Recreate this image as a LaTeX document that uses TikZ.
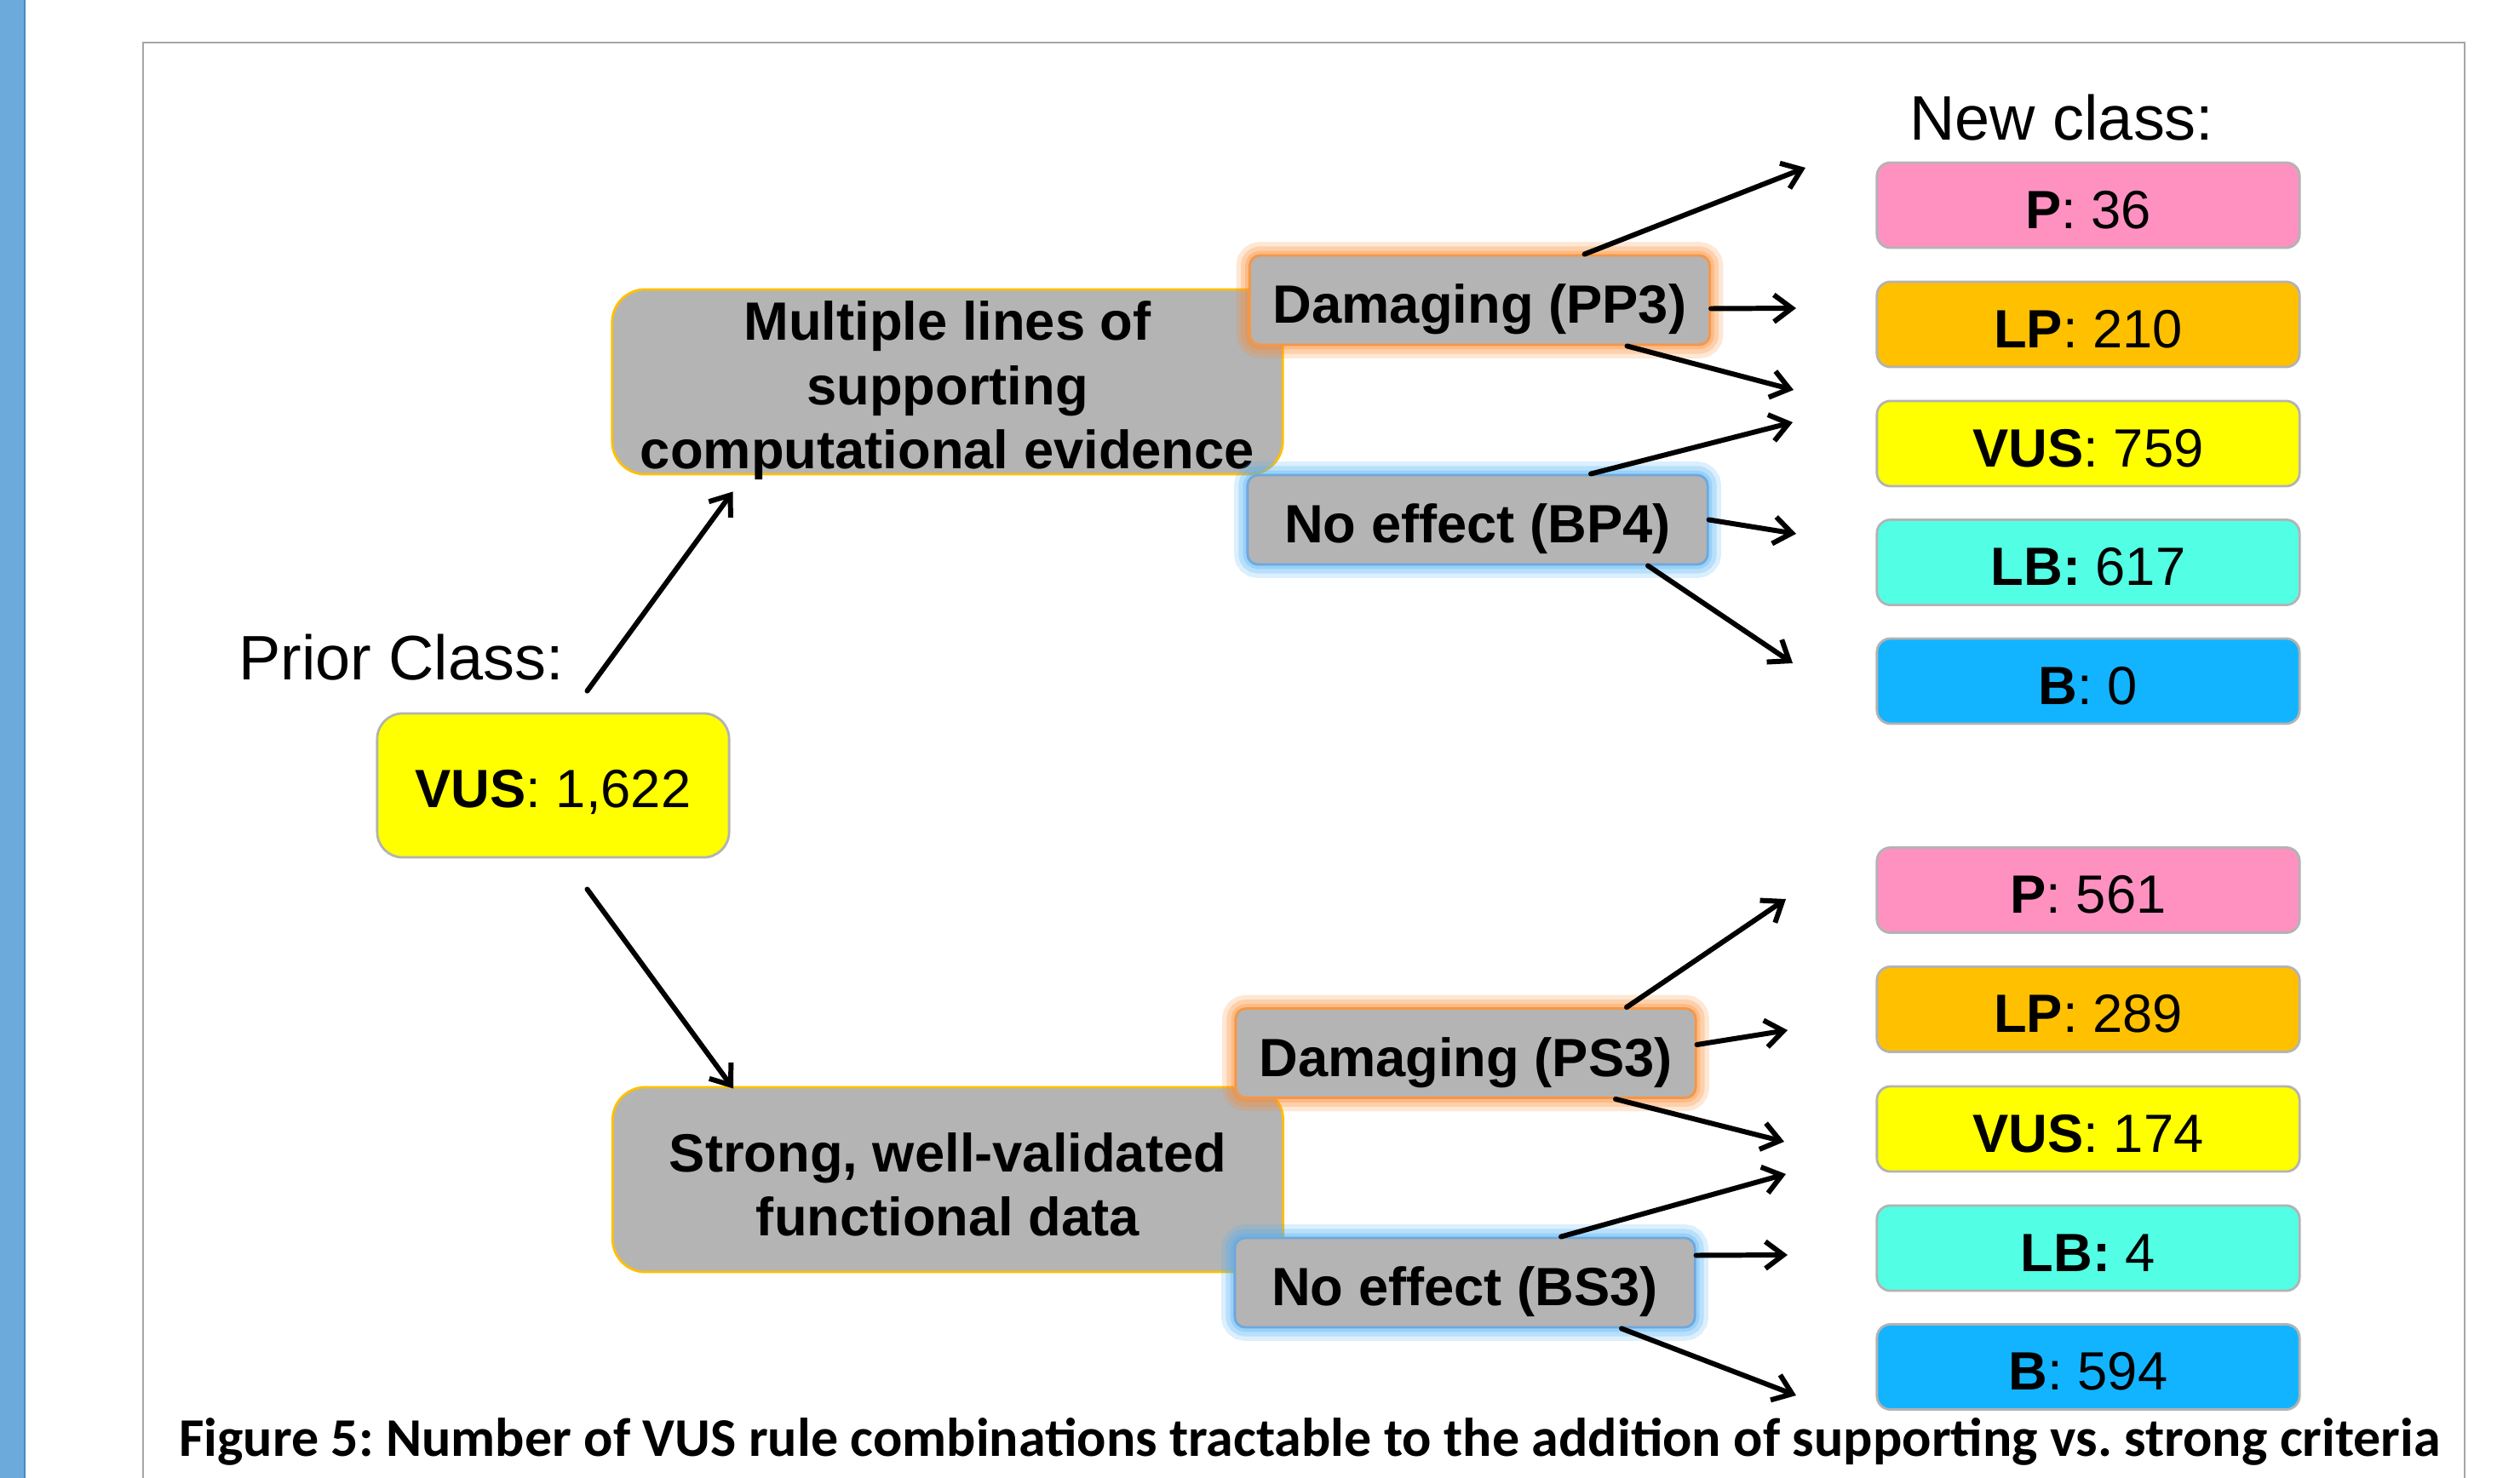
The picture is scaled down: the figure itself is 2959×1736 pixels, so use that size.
\documentclass[tikz,border=0pt]{standalone}
\usepackage{fontspec}
\setmainfont{Liberation Sans}
\newfontfamily\capfont{Carlito}
\usetikzlibrary{arrows.meta,positioning,calc}
\definecolor{boxgray}{HTML}{B4B4B4}
\definecolor{rimgray}{HTML}{B3B3B3}
\definecolor{clsP}{HTML}{FF91C1}
\definecolor{clsLP}{HTML}{FFC000}
\definecolor{clsVUS}{HTML}{FFFF00}
\definecolor{clsLB}{HTML}{52FFE5}
\definecolor{clsB}{HTML}{12B4FF}
\definecolor{evrim}{HTML}{FFC000}
\definecolor{dmgrim}{HTML}{F79646}
\definecolor{dmgglow}{HTML}{FB8A2E}
\definecolor{noeffrim}{HTML}{6FA8DC}
\definecolor{noeffglow}{HTML}{4DB0F5}
\definecolor{framegray}{HTML}{A6A6A6}
\definecolor{sidebar}{HTML}{6CAADC}
\definecolor{sideedge}{HTML}{4F87C1}

\begin{document}
\begin{tikzpicture}[
  x=0.01cm, y=-0.01cm,
  font=\fontsize{18}{21.6}\selectfont,
  cls/.style={draw=rimgray, line width=0.8pt, rounded corners=4.5pt, minimum width=4.96cm, minimum height=1cm, inner sep=0pt, text height=15.5pt, text depth=0pt},
  glow/.style={preaction={draw=#1, line width=9pt, draw opacity=0.2},
               preaction={draw=#1, line width=6pt, draw opacity=0.25},
               preaction={draw=#1, line width=3pt, draw opacity=0.3}},
  crit/.style={fill=boxgray, line width=0.8pt, rounded corners=3.5pt, minimum width=5.4cm, minimum height=1.05cm, inner sep=0pt, text height=15.5pt, text depth=0pt, font=\fontsize{18}{21.6}\selectfont\bfseries},
  evid/.style={draw=evrim, fill=boxgray, line width=0.8pt, rounded corners=11pt, minimum width=7.87cm, minimum height=2.17cm, inner sep=0pt, align=center, text depth=0pt, font=\fontsize{18}{21.4}\selectfont\bfseries},
  hdr/.style={font=\fontsize{21}{25}\selectfont, inner sep=0pt},
  arr/.style={-{Straight Barb[length=6pt, width=9pt]}, line width=1.7pt, line cap=round}
]
\useasboundingbox (0,0) rectangle (2959,1736);

% page edge and figure frame
\fill[sidebar] (0,0) rectangle (30,1736);
\draw[sideedge, line width=0.6pt] (29,0) -- (29,1736);
\draw[framegray, line width=0.6pt] (168,1736) |- (2894,50) -- (2894,1736);

% prior class
\node[hdr] (priorlbl) at (471,772) {Prior Class:};
\node[draw=rimgray, fill=clsVUS, line width=0.8pt, rounded corners=8.5pt, minimum width=4.13cm, minimum height=1.69cm, inner sep=0pt, text height=14.5pt, text depth=0pt] (prior) at (649.5,922.5) {\textbf{VUS}: 1,622};

% evidence types
\node[evid, text height=58pt] (multi) at (1112.5,448.5) {Multiple lines of\\supporting\\computational evidence};
\node[evid, text height=37.8pt] (strong) at (1113,1385.5) {Strong, well-validated\\functional data};

% criteria
\node[crit, draw=dmgrim, glow=dmgglow] (pp3) at (1737.5,352.5) {Damaging (PP3)};
\node[crit, draw=noeffrim, glow=noeffglow] (bp4) at (1735,610.5) {No effect (BP4)};
\node[crit, draw=dmgrim, glow=dmgglow] (ps3) at (1721,1237) {Damaging (PS3)};
\node[crit, draw=noeffrim, glow=noeffglow] (bs3) at (1720,1506.5) {No effect (BS3)};

% new classes
\node[hdr] (newlbl) at (2421,138) {New class:};
\foreach \nm/\yy/\col/\txt in {
    up/241/clsP/{\textbf{P}: 36},
    ulp/381/clsLP/{\textbf{LP}: 210},
    uvus/521/clsVUS/{\textbf{VUS}: 759},
    ulb/660.5/clsLB/{\textbf{LB:} 617},
    ub/800/clsB/{\textbf{B}: 0},
    lp/1045.5/clsP/{\textbf{P}: 561},
    llp/1185.5/clsLP/{\textbf{LP}: 289},
    lvus/1326/clsVUS/{\textbf{VUS}: 174},
    llb/1466/clsLB/{\textbf{LB:} 4},
    lb/1605.5/clsB/{\textbf{B}: 594}}
  \node[cls, fill=\col] (\nm) at (2452,\yy) {\txt};

% arrow tips
\coordinate (u1) at (2120,197);
\coordinate (u2) at (2109,362);
\coordinate (u3) at (2106,458);
\coordinate (u4) at (2105,496);
\coordinate (u5) at (2109,627);
\coordinate (u6) at (2105,779);
\coordinate (l1) at (2097,1056);
\coordinate (l2) at (2099,1210);
\coordinate (l3) at (2095,1341);
\coordinate (l4) at (2097,1379);
\coordinate (l5) at (2099,1474);
\coordinate (l6) at (2109,1639);

% flows
\draw[arr] ($(prior.north)+(40,-25)$) -- ($(multi.south)+(-252,19)$);
\draw[arr] ($(prior.south)+(40,36)$) -- ($(strong.north)+(-252,3)$);

\draw[arr] ($(pp3.north)+(123,0)$) -- (u1);
\draw[arr] ($(pp3.east)+(0,10)$) -- (u2);
\draw[arr] ($(pp3.south)+(173,0)$) -- (u3);
\draw[arr] ($(bp4.north)+(133,0)$) -- (u4);
\draw[arr] (bp4.east) -- (u5);
\draw[arr] ($(bp4.south)+(200,0)$) -- (u6);

\draw[arr] ($(ps3.north)+(189,0)$) -- (l1);
\draw[arr] ($(ps3.east)+(0,-10)$) -- (l2);
\draw[arr] ($(ps3.south)+(176,0)$) -- (l3);
\draw[arr] ($(bs3.north)+(113,0)$) -- (l4);
\draw[arr] ($(bs3.east)+(0,-32)$) -- (l5);
\draw[arr] ($(bs3.south)+(184,0)$) -- (l6);

% caption
\node[font=\capfont\fontsize{18.2}{21}\selectfont\bfseries\frenchspacing, inner sep=0pt] (caption) at (1538,1693)
  {Figure 5: Number of VUS rule combinations tractable to the addition of supporting vs. strong criteria};
\end{tikzpicture}
\end{document}
